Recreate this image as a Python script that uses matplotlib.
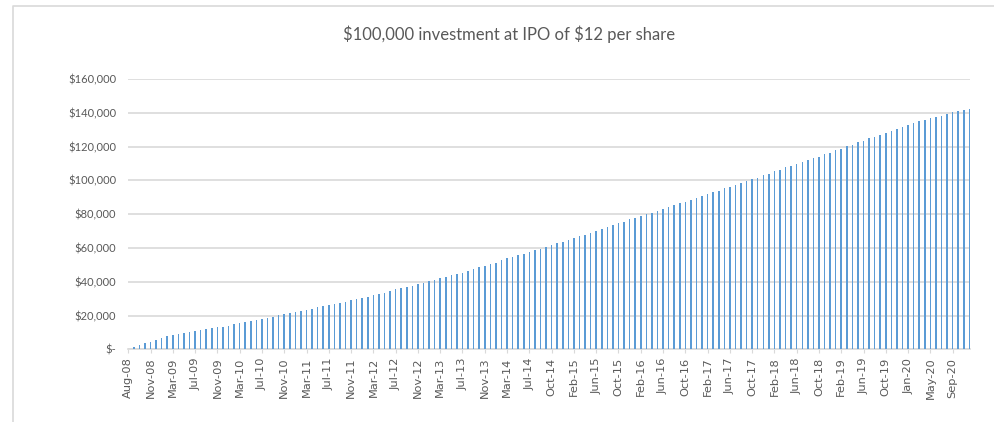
import numpy as np
import matplotlib.pyplot as plt
from matplotlib.ticker import FuncFormatter
from matplotlib.lines import Line2D

# value of the investment, in thousands of dollars, one bar per period
values_k = [0.3, 1.4, 2.6, 3.6, 4.6, 5.6, 6.6, 7.8, 8.4, 8.8,
            9.4, 10.2, 10.8, 11.4, 11.8, 12.6, 13.0, 13.4, 14.0, 14.8,
            15.4, 16.2, 16.8, 17.6, 18.0, 18.4, 19.4, 20.2, 20.6, 21.2,
            22.2, 22.8, 23.4, 24.0, 24.8, 25.6, 26.0, 26.8, 27.4, 28.2,
            29.0, 29.8, 30.4, 31.2, 32.2, 33.0,
            33.6, 34.4, 35.4, 36.2, 36.8, 37.6, 38.6, 39.4, 40.2, 41.2,
            42.0, 43.0, 43.8, 44.6, 45.3, 46.5, 47.7, 48.5, 49.5, 50.3,
            51.3, 52.7, 53.9, 54.9, 55.6, 56.6, 57.8,
            58.6, 59.6, 60.6, 61.8, 62.7, 63.7, 64.5, 65.9, 66.9, 67.6,
            68.6, 70.0, 71.0, 72.2, 73.3, 74.7, 75.5, 77.1, 77.8, 78.8,
            80.0, 80.8, 82.1, 83.0, 84.3, 85.4, 86.4,
            87.3, 88.1, 89.3, 90.5, 91.7, 92.9, 93.9, 95.2, 96.2, 97.4,
            98.4, 99.4, 100.8, 101.6, 103.0, 104.0, 105.3, 106.3, 107.7, 108.7,
            109.5, 110.9, 111.9, 113.1, 114.1, 115.4, 116.4, 117.8, 118.8, 120.2,
            121.2, 122.6, 123.4, 124.8, 125.7, 127.1, 128.1, 129.3, 130.3, 131.5,
            132.7, 133.9, 135.0, 136.0, 136.8, 137.4, 138.2, 139.4, 140.2, 141.0,
            141.8, 142.4]

# every 4th bar is labelled
tick_labels = ['Aug-08', 'Nov-08', 'Mar-09', 'Jul-09', 'Nov-09', 'Mar-10',
               'Jul-10', 'Nov-10', 'Mar-11', 'Jul-11', 'Nov-11', 'Mar-12',
               'Jul-12', 'Nov-12', 'Mar-13', 'Jul-13', 'Nov-13', 'Mar-14',
               'Jul-14', 'Oct-14', 'Feb-15', 'Jun-15', 'Oct-15', 'Feb-16',
               'Jun-16', 'Oct-16', 'Feb-17', 'Jun-17', 'Oct-17', 'Feb-18',
               'Jun-18', 'Oct-18', 'Feb-19', 'Jun-19', 'Oct-19', 'Jan-20',
               'May-20', 'Sep-20']

title = r'\$100,000 investment at IPO of \$12 per share'

values = np.array(values_k) * 1000
x = np.arange(len(values))
grey = '#595959'
light = '#D9D9D9'

fig = plt.figure(figsize=(9.94, 4.22), dpi=100)
ax = fig.add_axes([0.1285, 0.1723, 0.8473, 0.6405])

ax.bar(x, values, width=0.28, color='#5B9BD5', zorder=3)

ax.set_xlim(-0.1, len(values) - 0.9)
ax.set_ylim(0, 160000)
ax.set_yticks(np.arange(0, 160001, 20000))
ax.yaxis.set_major_formatter(FuncFormatter(
    lambda v, pos: '$-' if v == 0 else '${:,.0f}'.format(v)))
ax.grid(axis='y', color=light, linewidth=1.2, zorder=0)

ax.set_xticks(x[::4])
ax.set_xticklabels(tick_labels, rotation=90, fontsize=8.2, color=grey,
                   family='DejaVu Sans')
for lab in ax.get_yticklabels():
    lab.set_family('Lato')
    lab.set_fontsize(8)
    lab.set_color(grey)

ax.tick_params(axis='x', length=3, color=light, pad=3)
ax.tick_params(axis='y', length=0, pad=8.4)
for side in ['top', 'right', 'left']:
    ax.spines[side].set_visible(False)
ax.spines['bottom'].set_color(light)
ax.spines['bottom'].set_linewidth(1.2)

fig.text(0.512, 0.918, title, ha='center', va='center', fontsize=12,
         color=grey, family='Lato')

# chart box border (only top and left edges show in the crop)
fig.add_artist(Line2D([0.0131, 0.0131, 1.0], [0.0, 0.9846, 0.9846],
                      transform=fig.transFigure, color=light, linewidth=1.2))

fig.savefig('out.png', dpi=100)
plt.close()
